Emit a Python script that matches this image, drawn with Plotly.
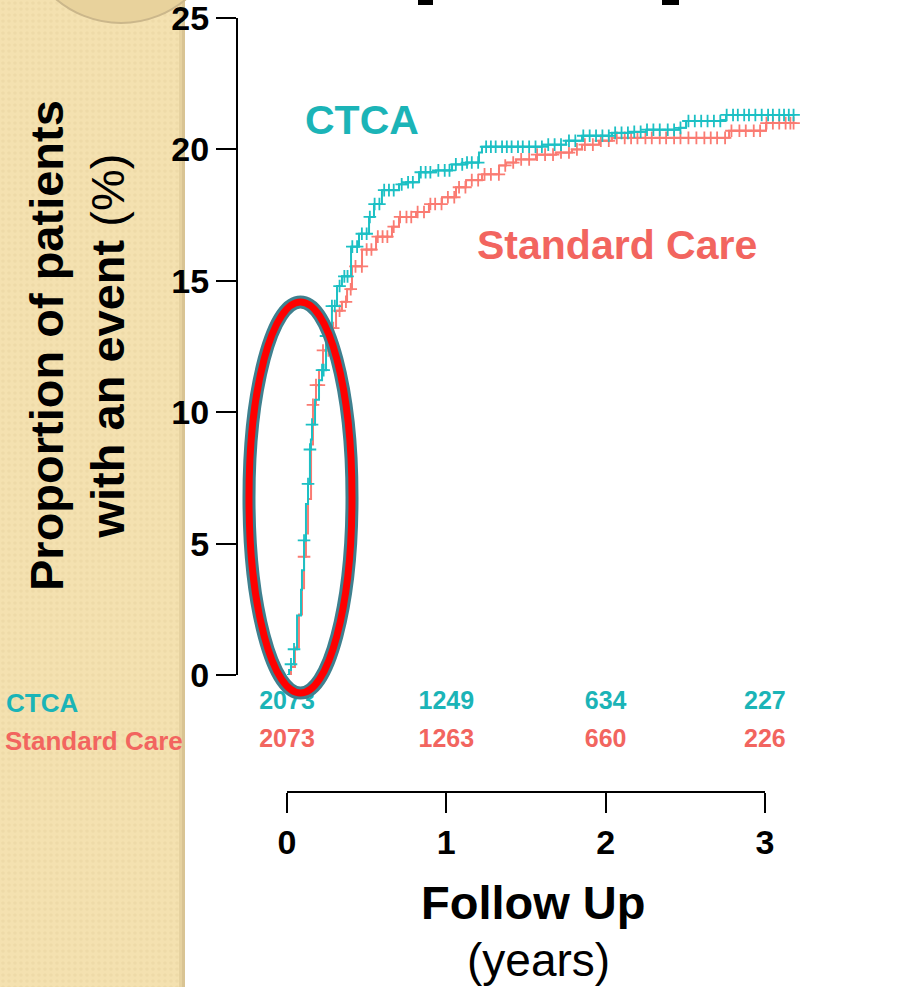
import numpy as np
import plotly.graph_objects as go

W, H = 905, 987

# Cumulative proportion of patients with an event (%), step changes over follow-up (years)
ctca_t = [0, 0.013, 0.025, 0.044, 0.063, 0.088, 0.094, 0.107, 0.119, 0.132,
          0.144, 0.150, 0.157, 0.176, 0.201, 0.22, 0.245, 0.282, 0.314, 0.345,
          0.402, 0.452, 0.515, 0.546, 0.596, 0.703, 0.747, 0.829, 0.935, 1.036,
          1.124, 1.205, 1.224, 1.601, 1.751, 1.852, 2.04, 2.147, 2.254, 2.461,
          2.505, 2.731, 2.756, 3.18]
ctca_p = [0, 0.19, 0.41, 0.98, 2.26, 3.24, 3.99, 5.12, 6.51, 7.27,
          8.58, 8.96, 9.53, 10.47, 11.22, 11.6, 12.9, 14.04, 14.8, 15.17,
          16.3, 16.79, 17.43, 17.92, 18.45, 18.67, 18.75, 19.13, 19.2, 19.43,
          19.5, 19.88, 20.1, 20.18, 20.33, 20.52, 20.63, 20.67, 20.75, 20.82,
          21.08, 21.12, 21.31, 21.31]

sc_t = [0, 0.025, 0.05, 0.075, 0.094, 0.107, 0.119, 0.132, 0.151, 0.163,
        0.182, 0.201, 0.226, 0.264, 0.308, 0.345, 0.377, 0.408, 0.471, 0.559,
        0.659, 0.703, 0.81, 0.891, 0.973, 1.061, 1.124, 1.224, 1.331, 1.375,
        1.438, 1.563, 1.689, 1.789, 1.852, 1.959, 2.04, 2.775, 3.007, 3.18]
sc_p = [0, 0.3, 1.05, 2.3, 3.3, 4.5, 5.38, 6.7, 8.77, 10.28,
        11.03, 11.6, 12.35, 13.2, 13.86, 14.2, 14.68, 15.55, 16.19, 16.68,
        17.06, 17.43, 17.62, 17.92, 18.18, 18.56, 18.83, 19.05, 19.39, 19.5,
        19.62, 19.8, 19.88, 20.0, 20.18, 20.33, 20.44, 20.71, 21.0, 21.0]

# Censoring times (years)
ctca_cens = [0.025, 0.044, 0.107, 0.132, 0.144, 0.157, 0.22, 0.23, 0.245, 0.282,
             0.3, 0.33, 0.36, 0.38, 0.41, 0.44, 0.47, 0.5, 0.52, 0.55,
             0.58, 0.61, 0.64, 0.67, 0.72, 0.76, 0.79, 0.84, 0.87, 0.9,
             0.95, 0.99, 1.02, 1.06, 1.1, 1.13, 1.16, 1.2, 1.25, 1.28,
             1.31, 1.35, 1.38, 1.41, 1.45, 1.48, 1.52, 1.56, 1.6, 1.64,
             1.68, 1.72, 1.77, 1.81, 1.86, 1.9, 1.94, 1.98, 2.02, 2.06,
             2.1, 2.14, 2.18, 2.22, 2.26, 2.3, 2.34, 2.39, 2.43, 2.47,
             2.52, 2.56, 2.6, 2.64, 2.68, 2.72, 2.76, 2.8, 2.83, 2.87,
             2.9, 2.94, 2.98, 3.02, 3.05, 3.09, 3.12, 3.15, 3.18]
sc_cens = [0.107, 0.163, 0.182, 0.2, 0.226, 0.26, 0.29, 0.33, 0.37, 0.4,
           0.43, 0.47, 0.5, 0.53, 0.57, 0.6, 0.63, 0.67, 0.71, 0.75,
           0.78, 0.82, 0.86, 0.9, 0.93, 0.97, 1.01, 1.05, 1.08, 1.12,
           1.16, 1.2, 1.24, 1.28, 1.33, 1.37, 1.42, 1.47, 1.52, 1.57,
           1.62, 1.67, 1.72, 1.77, 1.82, 1.87, 1.92, 1.97, 2.02, 2.07,
           2.12, 2.16, 2.2, 2.25, 2.29, 2.34, 2.38, 2.43, 2.47, 2.52,
           2.57, 2.62, 2.66, 2.7, 2.75, 2.79, 2.84, 2.88, 2.93, 2.97,
           3.01, 3.05, 3.09, 3.13, 3.16, 3.18]

# Numbers at risk
risk_times = [0, 1, 2, 3]
ctca_risk = [2073, 1249, 634, 227]
sc_risk = [2073, 1263, 660, 226]

groups = ["Standard Care", "CTCA"]
y_ticks = [0, 5, 10, 15, 20, 25]
x_ticks = [0, 1, 2, 3]

FONT = "Arial, Liberation Sans, sans-serif"
TEAL_LINE = "#1CC0C4"
TEAL_TEXT = "#1BB4B7"
SALMON_LINE = "#FA7B72"
SALMON_TEXT = "#F2655F"
BAND = "#F4E1B0"


def px(x):
    return x / W


def py(y):
    return 1 - y / H


def step_at(ts, ps, q):
    idx = np.searchsorted(np.asarray(ts), np.asarray(q), side="right") - 1
    return np.asarray(ps)[idx]


# page geometry (pixels)
PX_PER_YEAR = 159.3
YEAR0_X = 287
PLOT_L, PLOT_R = 238, 820
x_range = [(PLOT_L - YEAR0_X) / PX_PER_YEAR, (PLOT_R - YEAR0_X) / PX_PER_YEAR]

fig = go.Figure()

# textured side band (first subplot, so later axes draw over it)
fig.add_trace(go.Bar(
    x=[0], y=[1], width=[1], xaxis="x", yaxis="y",
    marker=dict(color=BAND, line=dict(width=0),
                pattern=dict(shape=".", fgcolor="#E7D3A0", size=6,
                             solidity=0.3, fillmode="overlay")),
    hoverinfo="skip"))

for t, p, cens, col in [(sc_t, sc_p, sc_cens, SALMON_LINE),
                        (ctca_t, ctca_p, ctca_cens, TEAL_LINE)]:
    fig.add_trace(go.Scatter(
        x=t, y=p, mode="lines", line_shape="hv",
        line=dict(color=col, width=2), xaxis="x2", yaxis="y2",
        hoverinfo="skip", cliponaxis=False))
    fig.add_trace(go.Scatter(
        x=cens, y=step_at(t, p, cens), mode="markers",
        marker=dict(symbol="cross-thin", size=9, color=col,
                    line=dict(width=1.8, color=col)),
        xaxis="x2", yaxis="y2", hoverinfo="skip", cliponaxis=False))

# numbers-at-risk table rows
for name, vals, col in [("CTCA", ctca_risk, TEAL_TEXT),
                        ("Standard Care", sc_risk, SALMON_TEXT)]:
    fig.add_trace(go.Scatter(
        x=risk_times, y=[name] * len(vals), mode="text",
        text=[f"<b>{v}</b>" for v in vals],
        textfont=dict(family=FONT, size=25, color=col),
        textposition="middle center",
        xaxis="x3", yaxis="y3", hoverinfo="skip", cliponaxis=False))

axis_font = dict(family=FONT, size=34, color="black", weight="bold")

fig.update_layout(
    width=W, height=H, autosize=False,
    margin=dict(l=0, r=0, t=0, b=0, pad=0),
    paper_bgcolor="white", plot_bgcolor="rgba(0,0,0,0)",
    showlegend=False, bargap=0,
    xaxis=dict(domain=[0, px(179)], range=[-0.5, 0.5], visible=False,
               anchor="y", automargin=False, fixedrange=True),
    yaxis=dict(domain=[0, 1], range=[0, 1], visible=False,
               anchor="x", automargin=False, fixedrange=True),
    xaxis2=dict(domain=[px(PLOT_L), px(PLOT_R)], range=x_range,
                visible=False, anchor="y2", automargin=False),
    yaxis2=dict(domain=[py(675), py(18)], range=[0, 25], tickvals=y_ticks,
                ticks="outside", ticklen=20, tickwidth=2, tickcolor="black",
                showline=True, linewidth=2, linecolor="black",
                showgrid=False, zeroline=False, tickfont=axis_font,
                ticklabeloverflow="allow", anchor="x2", automargin=False),
    xaxis3=dict(domain=[px(YEAR0_X), px(YEAR0_X + 3 * PX_PER_YEAR)],
                range=[0, 3], tickvals=x_ticks, anchor="free",
                position=py(792), side="bottom",
                ticks="outside", ticklen=20, tickwidth=2, tickcolor="black",
                showline=True, linewidth=2, linecolor="black",
                showgrid=False, zeroline=False, tickfont=axis_font,
                automargin=False),
    yaxis3=dict(domain=[py(760), py(684)], type="category",
                categoryorder="array", categoryarray=groups,
                range=[-0.5, 1.5], visible=False, anchor="x3",
                automargin=False),
)

shapes = [
    # shaded edge of the side band
    dict(type="rect", xref="paper", yref="paper", x0=px(179), x1=px(182),
         y0=0, y1=1, fillcolor="#E6D2A0", line=dict(width=0), layer="below"),
    dict(type="rect", xref="paper", yref="paper", x0=px(182), x1=px(185),
         y0=0, y1=1, fillcolor="#D9C493", line=dict(width=0), layer="below"),
    dict(type="circle", xref="paper", yref="paper", x0=px(20.5), x1=px(221.5),
         y0=py(23), y1=py(-178), fillcolor="#E8D29C",
         line=dict(color="#CBB78B", width=2), layer="above"),
    # fragments of the heading above the page edge
    dict(type="rect", xref="paper", yref="paper", x0=px(418), x1=px(433),
         y0=py(5), y1=1, fillcolor="black", line=dict(width=0)),
    dict(type="rect", xref="paper", yref="paper", x0=px(662), x1=px(679),
         y0=py(5), y1=1, fillcolor="black", line=dict(width=0)),
    # highlight ring around the early divergence
    dict(type="circle", xref="paper", yref="paper", x0=px(249), x1=px(352),
         y0=py(693), y1=py(302), line=dict(color="#3E808F", width=13),
         layer="above"),
    dict(type="circle", xref="paper", yref="paper", x0=px(249), x1=px(352),
         y0=py(693), y1=py(302), line=dict(color="#FF0000", width=7),
         layer="above"),
]
fig.update_layout(shapes=shapes)

annotations = [
    dict(text="<b>Proportion of patients</b><br><b>with an event</b> (%)",
         textangle=-90, xref="paper", yref="paper", x=px(77), y=py(346),
         xanchor="center", yanchor="middle", showarrow=False,
         font=dict(family=FONT, size=47, color="black")),
    dict(text="<b>CTCA</b>", xref="paper", yref="paper", x=px(362), y=py(120),
         xanchor="center", yanchor="middle", showarrow=False,
         font=dict(family=FONT, size=41, color=TEAL_TEXT)),
    dict(text="<b>Standard Care</b>", xref="paper", yref="paper", x=px(617),
         y=py(245), xanchor="center", yanchor="middle", showarrow=False,
         font=dict(family=FONT, size=41, color=SALMON_TEXT)),
    dict(text="<b>CTCA</b>", xref="paper", yref="y3", x=px(4), y="CTCA",
         xanchor="left", yanchor="middle", showarrow=False,
         font=dict(family=FONT, size=26, color=TEAL_TEXT)),
    dict(text="<b>Standard Care</b>", xref="paper", yref="y3", x=px(3),
         y="Standard Care", xanchor="left", yanchor="middle", showarrow=False,
         font=dict(family=FONT, size=26, color=SALMON_TEXT)),
    dict(text="<b>Follow Up</b>", xref="paper", yref="paper", x=px(533),
         y=py(902), xanchor="center", yanchor="middle", showarrow=False,
         font=dict(family=FONT, size=47, color="black")),
    dict(text="(years)", xref="paper", yref="paper", x=px(538), y=py(960),
         xanchor="center", yanchor="middle", showarrow=False,
         font=dict(family=FONT, size=46, color="black")),
]
fig.update_layout(annotations=annotations)

fig.write_html("out.html")
